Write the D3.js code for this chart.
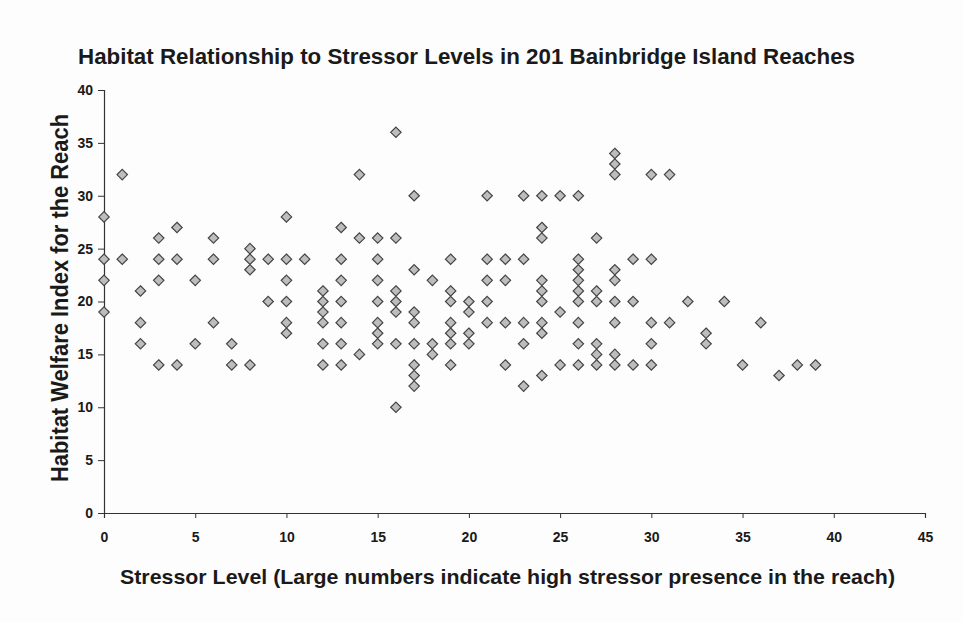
<!DOCTYPE html>
<html>
<head>
<meta charset="utf-8">
<script src="https://cdn.jsdelivr.net/npm/d3@7"></script>
<style>
  body { margin: 0; background: #fdfdfd; }
  text { font-family: Arial, "Liberation Sans", sans-serif; font-weight: bold; fill: #1a1a1a; }
</style>
</head>
<body>
<svg id="chart" width="963" height="622"></svg>
<script>
const chartTitle = 'Habitat Relationship to Stressor Levels in 201 Bainbridge Island Reaches'
const xTitle = 'Stressor Level (Large numbers indicate high stressor presence in the reach)'
const yTitle = 'Habitat Welfare Index for the Reach'

const xTicks = [0, 5, 10, 15, 20, 25, 30, 35, 40, 45]
const yTicks = [0, 5, 10, 15, 20, 25, 30, 35, 40]

// stressor level -> habitat welfare index values read at that level
const stressorLevels = [0, 1, 2, 3, 4, 5, 6, 7, 8, 9, 10, 11, 12, 13, 14, 15, 16, 17, 18, 19,
  20, 21, 22, 23, 24, 25, 26, 27, 28, 29, 30, 31, 32, 33, 34, 35, 36, 37, 38, 39]
const welfareByLevel = [
  [28, 24, 22, 19],
  [32, 24],
  [21, 18, 16],
  [26, 24, 22, 14],
  [27, 24, 14],
  [22, 16],
  [26, 24, 18],
  [16, 14],
  [25, 24, 23, 14],
  [24, 20],
  [28, 24, 22, 20, 18, 17],
  [24],
  [21, 20, 19, 18, 16, 14],
  [27, 24, 22, 20, 18, 16, 14],
  [32, 26, 15],
  [26, 24, 22, 20, 18, 17, 16],
  [36, 26, 21, 20, 19, 16, 10],
  [30, 23, 19, 18, 16, 14, 13, 12],
  [22, 16, 15],
  [24, 21, 20, 18, 17, 16, 14],
  [20, 19, 17, 16],
  [30, 24, 22, 20, 18],
  [24, 22, 18, 14],
  [30, 24, 18, 16, 12],
  [30, 27, 26, 22, 21, 20, 18, 17, 13],
  [30, 19, 14],
  [30, 24, 23, 22, 21, 20, 18, 16, 14],
  [26, 21, 20, 16, 15, 14],
  [34, 33, 32, 23, 22, 20, 18, 15, 14],
  [24, 20, 14],
  [32, 24, 18, 16, 14],
  [32, 18],
  [20],
  [17, 16],
  [20],
  [14],
  [18],
  [13],
  [14],
  [14]
]

const points = stressorLevels.flatMap((s, i) => welfareByLevel[i].map(w => ({ x: s, y: w })))

const svg = d3.select('#chart')

const x = d3.scaleLinear().domain([0, 45]).range([104, 925])
const y = d3.scaleLinear().domain([0, 40]).range([513, 90])

// title
svg.append('text')
  .attr('x', 78)
  .attr('y', 64)
  .attr('font-size', '22px')
  .attr('textLength', 777)
  .attr('lengthAdjust', 'spacingAndGlyphs')
  .text(chartTitle)

// axes
const yAxis = svg.append('g')
  .attr('transform', `translate(${x(0)},0)`)
  .call(d3.axisLeft(y).tickValues(yTicks).tickSize(6).tickPadding(5))
yAxis.select('.domain').attr('stroke', '#333').attr('stroke-width', 1.2)
yAxis.selectAll('.tick line').attr('stroke', '#333')
yAxis.selectAll('.tick text').attr('font-size', '14px').attr('font-family', null).attr('fill', '#1a1a1a')

const xAxis = svg.append('g')
  .attr('transform', `translate(0,${y(0)})`)
  .call(d3.axisBottom(x).tickValues(xTicks).tickSize(5).tickPadding(14))
xAxis.select('.domain').attr('stroke', '#333').attr('stroke-width', 1.2)
xAxis.selectAll('.tick line').attr('stroke', '#333')
xAxis.selectAll('.tick text').attr('font-size', '14px').attr('font-family', null).attr('fill', '#1a1a1a')

// axis titles
svg.append('text')
  .attr('x', 120)
  .attr('y', 584)
  .attr('font-size', '21px')
  .attr('textLength', 775)
  .attr('lengthAdjust', 'spacingAndGlyphs')
  .text(xTitle)

svg.append('text')
  .attr('transform', 'translate(68,298) rotate(-90)')
  .attr('text-anchor', 'middle')
  .attr('font-size', '23px')
  .attr('textLength', 368)
  .attr('lengthAdjust', 'spacingAndGlyphs')
  .text(yTitle)

// diamond markers
const r = 5.2
const diamond = `M0,${-r}L${r},0L0,${r}L${-r},0Z`

svg.append('g')
  .selectAll('path')
  .data(points)
  .join('path')
  .attr('transform', d => `translate(${x(d.x)},${y(d.y)})`)
  .attr('d', diamond)
  .attr('fill', '#bdbdbd')
  .attr('stroke', '#444')
  .attr('stroke-width', 1.2)
</script>
</body>
</html>
